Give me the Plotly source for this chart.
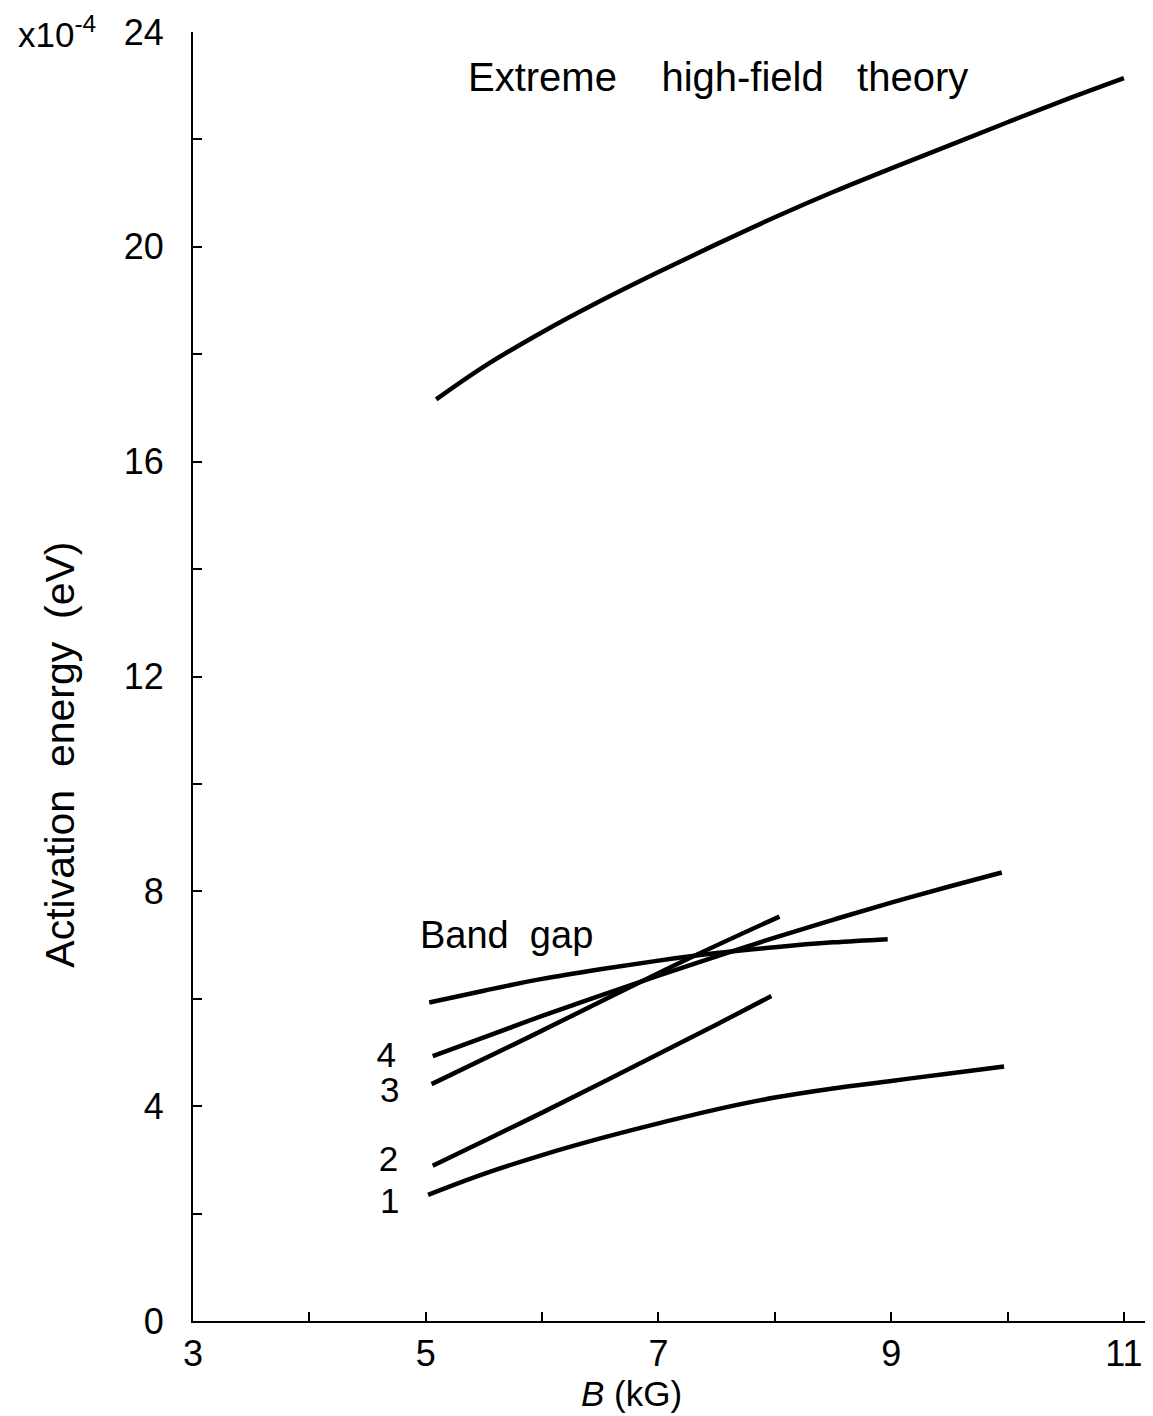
import plotly.graph_objects as go

# ---- data ----
B_theory = [5.09, 5.5, 6.0, 6.5, 7.0, 7.5, 8.0, 8.5, 9.0, 9.5, 10.0, 10.5, 11.0]
E_theory = [17.16, 17.77, 18.41, 18.99, 19.53, 20.05, 20.55, 21.02, 21.46, 21.89, 22.32, 22.74, 23.14]

B_gap = [5.03, 5.5, 6.0, 6.5, 7.0, 7.5, 8.0, 8.5, 8.97]
E_gap = [5.93, 6.15, 6.37, 6.55, 6.71, 6.85, 6.96, 7.05, 7.11]

B_4 = [5.06, 5.5, 6.0, 6.5, 7.0, 7.5, 8.0, 8.5, 9.0, 9.5, 9.95]
E_4 = [4.93, 5.28, 5.68, 6.06, 6.43, 6.79, 7.14, 7.47, 7.79, 8.09, 8.35]

B_3 = [5.05, 5.90, 6.47, 7.30, 8.04]
E_3 = [4.41, 5.30, 5.91, 6.79, 7.53]

B_2 = [5.06, 5.5, 6.0, 6.5, 7.0, 7.5, 7.97]
E_2 = [2.89, 3.35, 3.88, 4.42, 4.97, 5.52, 6.05]

B_1 = [5.02, 5.5, 6.0, 6.5, 7.0, 7.5, 8.0, 8.5, 9.0, 9.5, 9.97]
E_1 = [2.35, 2.74, 3.09, 3.40, 3.68, 3.94, 4.16, 4.33, 4.47, 4.61, 4.74]

curve_labels = ["4", "3", "2", "1"]
curve_label_B = [4.66, 4.69, 4.68, 4.69]
curve_label_E = [4.90, 4.24, 2.96, 2.18]

x_tickvals = [3, 4, 5, 6, 7, 8, 9, 10, 11]
x_ticktext = ["3", "", "5", "", "7", "", "9", "", "11"]
y_tickvals = [0, 2, 4, 6, 8, 10, 12, 14, 16, 18, 20, 22, 24]
y_ticktext = ["0", "", "4", "", "8", "", "12", "", "16", "", "20", "", "24"]

FONT = "Liberation Sans"
NB = "\u00a0"

fig = go.Figure()
line_style = dict(color="black", width=4.5, shape="spline", smoothing=1.0)
for bx, ey in [(B_theory, E_theory), (B_gap, E_gap), (B_4, E_4),
               (B_3, E_3), (B_2, E_2), (B_1, E_1)]:
    fig.add_trace(go.Scatter(x=bx, y=ey, mode="lines", line=line_style,
                             showlegend=False, hoverinfo="skip"))

fig.add_trace(go.Scatter(x=curve_label_B, y=curve_label_E, mode="text",
                         text=curve_labels,
                         textfont=dict(family=FONT, size=35, color="black"),
                         showlegend=False, hoverinfo="skip"))

fig.add_annotation(x=7.51, y=23.17, xref="x", yref="y", showarrow=False,
                   text="Extreme" + NB * 4 + "high-field" + NB * 3 + "theory",
                   font=dict(family=FONT, size=40, color="black"))
fig.add_annotation(x=5.69, y=7.19, xref="x", yref="y", showarrow=False,
                   text="Band" + NB * 2 + "gap",
                   font=dict(family=FONT, size=38, color="black"))

fig.add_annotation(x=-0.142, y=1.0, xref="paper", yref="paper", showarrow=False,
                   xanchor="center", yanchor="middle",
                   text="x10<sup>-4</sup>",
                   font=dict(family=FONT, size=35, color="black"))

fig.add_annotation(x=-0.138, y=0.439, xref="paper", yref="paper", showarrow=False,
                   xanchor="center", yanchor="middle", textangle=-90,
                   text="Activation" + NB * 2 + "energy" + NB * 2 + "(eV)",
                   font=dict(family=FONT, size=41, color="black"))

fig.add_annotation(x=6.77, y=-0.056, xref="x", yref="paper", showarrow=False,
                   xanchor="center", yanchor="middle",
                   text="<i>B</i>" + NB + "(kG)",
                   font=dict(family=FONT, size=35, color="black"))

fig.update_xaxes(range=[3, 11.25], tickvals=x_tickvals, ticktext=x_ticktext,
                 ticks="inside", ticklen=9, tickwidth=2, tickcolor="black",
                 showline=True, linecolor="black", linewidth=2,
                 showgrid=False, zeroline=False,
                 tickfont=dict(family=FONT, size=36, color="black"))
fig.update_yaxes(range=[0, 24], tickvals=y_tickvals, ticktext=y_ticktext,
                 ticks="inside", ticklen=9, tickwidth=2, tickcolor="black",
                 showline=True, linecolor="black", linewidth=2,
                 showgrid=False, zeroline=False, ticklabelstandoff=20,
                 tickfont=dict(family=FONT, size=36, color="black"))

# page body adds ~8px offset; sizes compensate so the plot lands where the reference has it
fig.update_layout(width=1145, height=1408,
                  margin=dict(l=185, r=0, t=24, b=95),
                  plot_bgcolor="white", paper_bgcolor="white")

fig.write_html("out.html")
